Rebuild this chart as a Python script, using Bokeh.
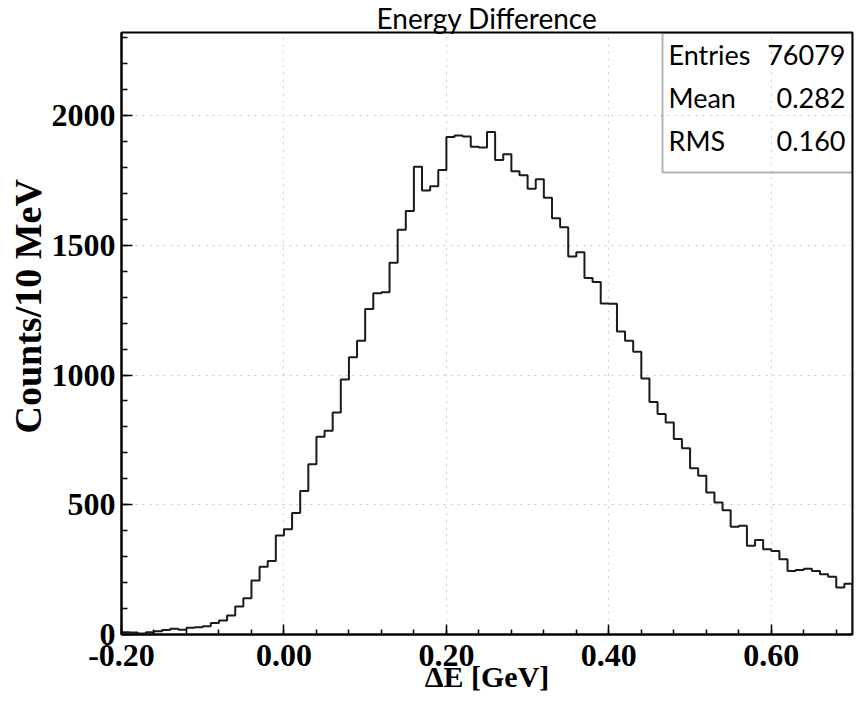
import numpy as np
from bokeh.plotting import figure
from bokeh.models import (Range1d, LinearAxis, SingleIntervalTicker, NumeralTickFormatter,
                          Label, BoxAnnotation, Title)
from bokeh.embed import file_html
from bokeh.resources import INLINE

# ---- data ----
counts = [9, 8, 4, 9, 13, 17, 22, 18, 26, 28,
          32, 44, 54, 73, 108, 140, 208, 261, 283, 382,
          406, 468, 553, 656, 762, 785, 856, 983, 1068, 1132,
          1254, 1315, 1319, 1433, 1560, 1632, 1803, 1711, 1727, 1790,
          1917, 1923, 1919, 1880, 1877, 1937, 1829, 1851, 1785, 1770,
          1718, 1754, 1683, 1604, 1569, 1457, 1473, 1374, 1358, 1276,
          1275, 1168, 1132, 1090, 987, 896, 850, 817, 753, 718,
          641, 612, 547, 509, 479, 415, 419, 342, 364, 329,
          322, 290, 245, 249, 253, 245, 232, 223, 181, 196]
x_start, x_end, bin_width = -0.2, 0.7, 0.01
y_max = 2320
title_text = "Energy Difference"
x_label = "ΔE [GeV]"
y_label = "Counts/10 MeV"
stat_names = ["Entries", "Mean", "RMS"]
stat_values = ["76079", "0.282", "0.160"]

edges = x_start + bin_width * np.arange(len(counts) + 1)
xs = np.repeat(edges, 2)
ys = np.concatenate([[0], np.repeat(counts, 2), [0]])

serif = "Liberation Serif"
sans = "Lato"

W, H = 858, 711
p = figure(width=W, height=H, output_backend="svg", toolbar_location=None,
           x_range=Range1d(x_start, x_end), y_range=Range1d(0, y_max),
           min_border_left=121, min_border_right=6, min_border_top=32, min_border_bottom=77,
           x_axis_location=None, y_axis_location=None, title=title_text)
p.background_fill_color = "white"
p.border_fill_color = "white"
p.outline_line_color = "black"
p.outline_line_width = 2

p.title.align = "center"
p.title.text_font = sans
p.title.text_font_style = "normal"
p.title.text_font_size = "28px"
p.title.text_color = "black"
p.title.standoff = -5

xaxis = LinearAxis(ticker=SingleIntervalTicker(interval=0.2, num_minor_ticks=5),
                   formatter=NumeralTickFormatter(format="0.00"))
xaxis.axis_label = x_label
yaxis = LinearAxis(ticker=SingleIntervalTicker(interval=500, num_minor_ticks=5))
for ax in (xaxis, yaxis):
    ax.major_tick_out = 0
    ax.minor_tick_out = 0
    ax.axis_line_width = 2
    ax.axis_line_color = "black"
    ax.major_tick_line_width = 1.5
    ax.minor_tick_line_width = 1.5
    ax.major_label_text_font = serif
    ax.major_label_text_font_style = "bold"
    ax.major_label_text_font_size = "32px"
    ax.major_label_text_color = "black"
    ax.axis_label_text_font = serif
    ax.axis_label_text_font_style = "bold"
    ax.axis_label_text_color = "black"
xaxis.major_tick_in = 10
xaxis.minor_tick_in = 5
xaxis.major_label_standoff = 10
xaxis.axis_label_standoff = -9
xaxis.axis_label_text_font_size = "30px"
yaxis.major_tick_in = 11
yaxis.minor_tick_in = 6
yaxis.major_label_standoff = 6
p.add_layout(xaxis, "below")
p.add_layout(yaxis, "left")

# y title on the left, shifted along the axis like the reference
p.add_layout(Title(text=y_label, align="left", offset=201, standoff=0,
                   text_font=serif, text_font_style="bold", text_font_size="38px",
                   text_color="black"), "left")

p.xgrid.ticker = xaxis.ticker
p.ygrid.ticker = yaxis.ticker
for g in (p.xgrid, p.ygrid):
    g.grid_line_color = "#c8c8c8"
    g.grid_line_dash = "2 5"
    g.grid_line_width = 1

p.line(xs, ys, line_color="#1a1a1a", line_width=2)

# statistics box
p.add_layout(BoxAnnotation(left=541, right=731, top=602, bottom=462,
                           left_units="screen", right_units="screen",
                           top_units="screen", bottom_units="screen",
                           fill_alpha=0, line_color="black", line_width=2))
for i, (nm, vl) in enumerate(zip(stat_names, stat_values)):
    yb = 580 - 43 * i
    p.add_layout(Label(x=547, y=yb, x_units="screen", y_units="screen", text=nm,
                       text_align="left", text_baseline="alphabetic",
                       text_font=sans, text_font_size="27px", text_color="black"))
    p.add_layout(Label(x=724, y=yb, x_units="screen", y_units="screen", text=vl,
                       text_align="right", text_baseline="alphabetic",
                       text_font=sans, text_font_size="27px", text_color="black"))

open("out.html", "w").write(file_html(p, INLINE))
